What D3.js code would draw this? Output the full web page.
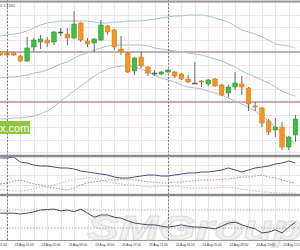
<!DOCTYPE html>
<html>
<head>
<meta charset="utf-8">
<script src="https://cdn.jsdelivr.net/npm/d3@7"></script>
<style>
  html, body { margin: 0; padding: 0; background: #fff; }
  svg { display: block; }
</style>
</head>
<body>
<svg id="chart" width="300" height="250"></svg>
<script>
// H1 bars, first visible bar is 22 Aug 23:00
const firstBar = new Date(Date.UTC(2016, 7, 22, 23))

const barOpen  = [1.1150,1.1149,1.1149,1.1146,1.1141,1.1155,1.1160,1.1162,1.1160,1.1170,1.1168,1.1164,1.1179,1.1161,1.1159,1.1162,1.1176,1.1172,1.1153,1.1149,1.1131,1.1145,1.1135,1.1129,1.1128,1.1130,1.1130,1.1128,1.1123,1.1119,1.1121,1.1118,1.1123,1.1117,1.1109,1.1115,1.1118,1.1114,1.1096,1.1094,1.1081,1.1072,1.1075,1.1055,1.1067]
const barHigh  = [1.1151,1.1151,1.1150,1.1147,1.1165,1.1164,1.1167,1.1165,1.1171,1.1174,1.1174,1.1191,1.1180,1.1164,1.1164,1.1182,1.1177,1.1173,1.1166,1.1150,1.1145,1.1150,1.1136,1.1132,1.1131,1.1133,1.1131,1.1129,1.1127,1.1140,1.1122,1.1123,1.1124,1.1118,1.1117,1.1130,1.1126,1.1115,1.1100,1.1095,1.1083,1.1084,1.1080,1.1066,1.1087]
const barLow   = [1.1146,1.1146,1.1146,1.1140,1.1140,1.1150,1.1153,1.1155,1.1157,1.1166,1.1157,1.1163,1.1160,1.1155,1.1150,1.1161,1.1167,1.1152,1.1147,1.1129,1.1127,1.1134,1.1126,1.1126,1.1127,1.1129,1.1124,1.1122,1.1119,1.1118,1.1115,1.1116,1.1115,1.1106,1.1105,1.1112,1.1107,1.1091,1.1091,1.1075,1.1067,1.1065,1.1052,1.1052,1.1060]
const barClose = [1.1147,1.1147,1.1147,1.1141,1.1154,1.1162,1.1163,1.1159,1.1170,1.1170,1.1164,1.1178,1.1162,1.1158,1.1163,1.1177,1.1170,1.1155,1.1150,1.1130,1.1144,1.1136,1.1129,1.1129,1.1130,1.1132,1.1126,1.1123,1.1120,1.1119,1.1120,1.1122,1.1116,1.1107,1.1115,1.1119,1.1115,1.1098,1.1095,1.1079,1.1070,1.1075,1.1055,1.1065,1.1083]

// bollinger bands
const bbUpper  = [1.1166,1.1167,1.1168,1.1169,1.1171,1.1174,1.1177,1.1179,1.1180,1.1181,1.1181,1.1181,1.1181,1.1181,1.1180,1.1179,1.1179,1.1180,1.1180,1.1181,1.1181,1.1181,1.1182,1.1183,1.1184,1.1185,1.1186,1.1186,1.1187,1.1187,1.1187,1.1186,1.1184,1.1182,1.1180,1.1176,1.1172,1.1170,1.1168,1.1165,1.1162,1.1158,1.1157,1.1156,1.1154]
const bbMiddle = [1.1124,1.1125,1.1125,1.1126,1.1127,1.1129,1.1130,1.1132,1.1135,1.1138,1.1140,1.1144,1.1147,1.1149,1.1152,1.1154,1.1156,1.1157,1.1157,1.1157,1.1157,1.1157,1.1156,1.1154,1.1153,1.1152,1.1151,1.1150,1.1149,1.1148,1.1147,1.1145,1.1143,1.1141,1.1138,1.1135,1.1131,1.1128,1.1125,1.1122,1.1119,1.1115,1.1111,1.1108,1.1106]
const bbLower  = [1.1083,1.1083,1.1084,1.1084,1.1085,1.1086,1.1088,1.1091,1.1095,1.1101,1.1106,1.1111,1.1116,1.1121,1.1126,1.1130,1.1133,1.1135,1.1136,1.1136,1.1135,1.1133,1.1130,1.1127,1.1124,1.1122,1.1120,1.1117,1.1115,1.1114,1.1113,1.1111,1.1109,1.1107,1.1104,1.1101,1.1098,1.1095,1.1091,1.1086,1.1081,1.1075,1.1069,1.1063,1.1058]

// ADX window
const adxMain  = [37,37,38,33,32,30,29,29,28,27,27,26,24,23,22,21,20,18,17,17,18,19,20,20,19,19,20,21,22,22,23,23,24,25,27,25,23,25,27,28,29,31,32,34,32]
const diMinus  = [11,12,14,15,13,11,10,8,7,6,5,7,10,12,13,14,15,15,16,16,15,14,13,13,12,12,13,13,14,14,15,15,15,16,16,17,18,18,19,20,18,17,15,13,12]
const diPlus   = [5,5,4,4,5,6,8,9,10,12,14,15,16,17,17,15,13,12,11,10,10,9,8,8,9,9,9,8,7,7,7,7,7,8,8,7,6,5,4,3,3,2,2,2,2]

// RSI window
const rsiValues = [63,63,63,61,63,66,70,71,72,68,70,66,72,63,54,59,59,54,52,46,41,39,37,37,34,32,34,37,34,32,32,30,28,34,41,43,37,32,28,19,21,26,19,32,43]
const rsiLevels = [70, 30]

const priceLevels = [1.1150, 1.1100]
const daySeparators = [new Date(Date.UTC(2016, 7, 23)), new Date(Date.UTC(2016, 7, 24))]
const tickTimes = [
  Date.UTC(2016,7,22,21), Date.UTC(2016,7,23,1), Date.UTC(2016,7,23,5), Date.UTC(2016,7,23,9),
  Date.UTC(2016,7,23,13), Date.UTC(2016,7,23,17), Date.UTC(2016,7,23,21), Date.UTC(2016,7,24,1),
  Date.UTC(2016,7,24,5), Date.UTC(2016,7,24,9), Date.UTC(2016,7,24,13), Date.UTC(2016,7,24,17)
].map(t => new Date(t))

const bars = barOpen.map((o, i) => ({
  t: d3.utcHour.offset(firstBar, i),
  o, h: barHigh[i], l: barLow[i], c: barClose[i]
}))

const W = 300, H = 250
const svg = d3.select('#chart')

const x = d3.scaleUtc()
  .domain([daySeparators[0], daySeparators[1]])
  .range([7, 168])

const y = d3.scaleLinear().domain([1.1049, 1.1202]).range([153, 0])
const yAdx = d3.scaleLinear().domain([0, 38]).range([195, 157])
const yRsi = d3.scaleLinear().domain([0, 100]).range([241.5, 196.5])

const defs = svg.append('defs')
const clips = [['clipMain', 0, 155], ['clipAdx', 157, 194], ['clipRsi', 196, 240]]
clips.forEach(([id, y0, y1]) => {
  defs.append('clipPath').attr('id', id)
    .append('rect').attr('x', 0).attr('y', y0).attr('width', W).attr('height', y1 - y0)
})

svg.append('rect').attr('width', W).attr('height', H).attr('fill', '#fff')

// grid
const grid = svg.append('g').attr('stroke', '#efe5e9').attr('stroke-width', 1)
const gridHours = d3.utcHour.every(2).range(d3.utcHour.offset(firstBar, -3), d3.utcHour.offset(firstBar, 48))
grid.selectAll('.vg').data(gridHours).enter().append('line')
  .attr('x1', d => Math.round(x(d)) + 0.5).attr('x2', d => Math.round(x(d)) + 0.5)
  .attr('y1', 0).attr('y2', 240)
grid.selectAll('.hg').data(d3.range(1.1050, 1.1201, 0.00125)).enter().append('line')
  .attr('x1', 0).attr('x2', W)
  .attr('y1', d => Math.round(y(d)) + 0.5).attr('y2', d => Math.round(y(d)) + 0.5)
grid.selectAll('.ag').data([10, 20, 30]).enter().append('line')
  .attr('x1', 0).attr('x2', W)
  .attr('y1', d => Math.round(yAdx(d)) + 0.5).attr('y2', d => Math.round(yAdx(d)) + 0.5)

// watermark
svg.append('text')
  .attr('x', 87).attr('y', 240)
  .attr('textLength', 215).attr('lengthAdjust', 'spacingAndGlyphs')
  .attr('font-family', 'Liberation Sans, Arial, sans-serif')
  .attr('font-size', 35).attr('font-weight', 'bold').attr('font-style', 'italic')
  .attr('fill', '#f0f0f0').attr('stroke', '#dadada').attr('stroke-width', 0.8)
  .text('SMGroup')

// main panel
const main = svg.append('g').attr('clip-path', 'url(#clipMain)')

main.selectAll('.level').data(priceLevels).enter().append('line')
  .attr('x1', 0).attr('x2', W)
  .attr('y1', d => y(d)).attr('y2', d => y(d))
  .attr('stroke', '#c9abb3').attr('stroke-width', 2)

const bandLine = d3.line().x((d, i) => x(bars[i].t)).y(d => y(d))
;[bbUpper, bbMiddle, bbLower].forEach(band => {
  main.append('path').datum(band)
    .attr('d', bandLine)
    .attr('fill', 'none').attr('stroke', '#a9c2c9').attr('stroke-width', 1)
})

const bodyW = 4.6
const candle = main.selectAll('.bar').data(bars).enter().append('g')
candle.append('line')
  .attr('x1', d => x(d.t)).attr('x2', d => x(d.t))
  .attr('y1', d => y(d.h)).attr('y2', d => y(d.l))
  .attr('stroke', '#6a6a6a').attr('stroke-width', 1)
candle.append('rect')
  .attr('x', d => x(d.t) - bodyW / 2)
  .attr('width', bodyW)
  .attr('y', d => y(Math.max(d.o, d.c)))
  .attr('height', d => Math.max(1, Math.abs(y(d.o) - y(d.c))))
  .attr('fill', d => d.c > d.o ? '#3fbf3f' : d.c < d.o ? '#f7931e' : '#555')
  .attr('stroke', d => d.c > d.o ? '#2f8f2f' : d.c < d.o ? '#d9761a' : '#555')
  .attr('stroke-width', 0.5)

// ADX panel
const adx = svg.append('g').attr('clip-path', 'url(#clipAdx)')
const adxLine = d3.line().x((d, i) => x(bars[i].t)).y(d => yAdx(d))
adx.append('path').datum(diPlus).attr('d', adxLine)
  .attr('fill', 'none').attr('stroke', '#bdb3bb').attr('stroke-width', 1).attr('stroke-dasharray', '1.5,1.5')
adx.append('path').datum(diMinus).attr('d', adxLine)
  .attr('fill', 'none').attr('stroke', '#9d8e9b').attr('stroke-width', 1).attr('stroke-dasharray', '1.5,1.5')
adx.append('path').datum(adxMain).attr('d', adxLine)
  .attr('fill', 'none').attr('stroke', '#4b4b8c').attr('stroke-width', 1)

// RSI panel
const rsi = svg.append('g').attr('clip-path', 'url(#clipRsi)')
rsi.selectAll('.rl').data(rsiLevels).enter().append('line')
  .attr('x1', 0).attr('x2', W)
  .attr('y1', d => yRsi(d)).attr('y2', d => yRsi(d))
  .attr('stroke', '#a08f9a').attr('stroke-width', 0.8).attr('stroke-dasharray', '1.5,1.5')
rsi.append('path').datum(rsiValues)
  .attr('d', d3.line().x((d, i) => x(bars[i].t)).y(d => yRsi(d)))
  .attr('fill', 'none').attr('stroke', '#4a4a5e').attr('stroke-width', 1)

// day separators
svg.selectAll('.sep').data(daySeparators).enter().append('line')
  .attr('x1', d => Math.round(x(d)) + 0.5).attr('x2', d => Math.round(x(d)) + 0.5)
  .attr('y1', 0).attr('y2', 240)
  .attr('stroke', '#7a7a7a').attr('stroke-width', 1).attr('stroke-dasharray', '2,1.5')

// panel borders
svg.append('line').attr('x1', 0).attr('x2', W).attr('y1', 1.5).attr('y2', 1.5)
  .attr('stroke', '#9a9a9a').attr('stroke-width', 2)
;[156, 195].forEach(v => {
  svg.append('line').attr('x1', 0).attr('x2', W).attr('y1', v).attr('y2', v)
    .attr('stroke', '#8c8c8c').attr('stroke-width', 2.5)
})
svg.append('line').attr('x1', 0).attr('x2', W).attr('y1', 240.5).attr('y2', 240.5)
  .attr('stroke', '#9a9a9a').attr('stroke-width', 1)

// time axis
const axis = svg.append('g').attr('transform', 'translate(0,241)')
  .call(d3.axisBottom(x).tickValues(tickTimes).tickSize(0).tickFormat(d3.utcFormat('%d %b %H:%M')))
axis.select('.domain').remove()
axis.selectAll('text')
  .attr('text-anchor', 'start').attr('x', 0.5).attr('dy', '0').attr('y', 5)
  .attr('textLength', 19).attr('lengthAdjust', 'spacingAndGlyphs')
  .attr('font-family', 'Liberation Sans, Arial, sans-serif').attr('font-size', 3.3).attr('fill', '#333')

// price text at top left
svg.append('text').attr('x', 0).attr('y', 7)
  .attr('font-family', 'Liberation Sans, Arial, sans-serif').attr('font-size', 3.8).attr('fill', '#444')
  .text('0 1.1180')

// green site banner
svg.append('rect').attr('x', 0).attr('y', 121).attr('width', 30).attr('height', 13).attr('fill', '#8dc63f')
svg.append('text').attr('x', 0).attr('y', 131.5)
  .attr('font-family', 'Liberation Sans, Arial, sans-serif').attr('font-size', 11).attr('fill', '#fff')
  .text('x.com')
</script>
</body>
</html>
